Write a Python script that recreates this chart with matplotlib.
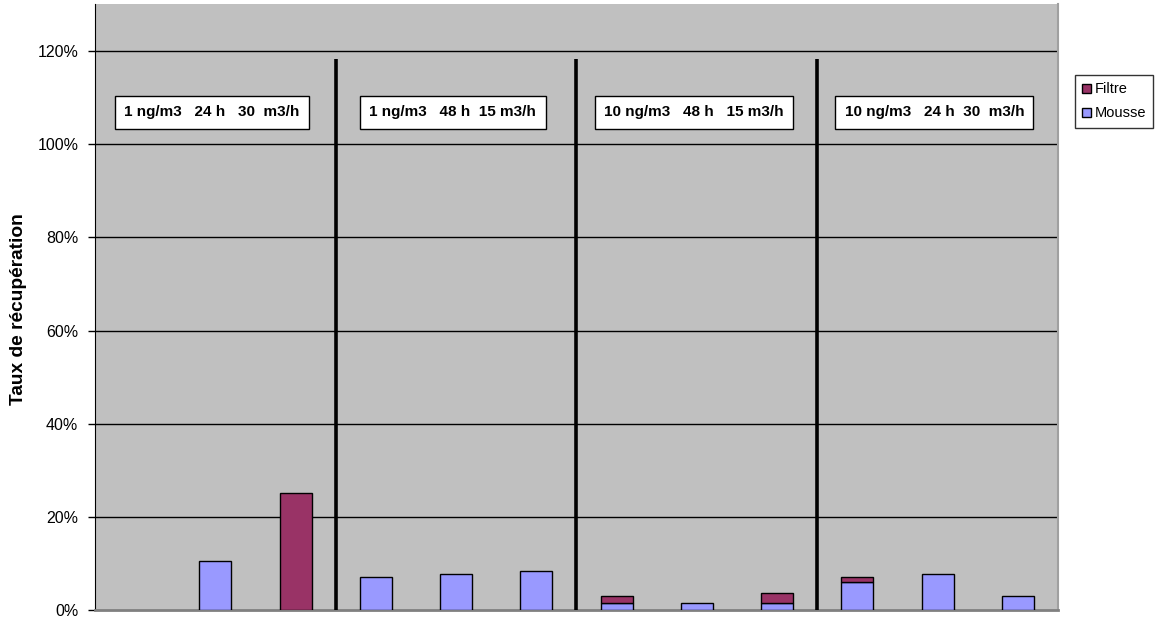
import matplotlib
matplotlib.use('Agg')
import matplotlib.pyplot as plt
import numpy as np

plt.rcParams['font.family'] = ['Liberation Sans', 'DejaVu Sans']

# 12 essais, 4 groupes de conditions
mousse = [0.0, 0.107, 0.0, 0.072, 0.078, 0.085, 0.017, 0.015, 0.017, 0.061, 0.078, 0.030]
filtre = [0.0, 0.0, 0.253, 0.0, 0.0, 0.0, 0.013, 0.0, 0.020, 0.011, 0.0, 0.0]
conditions = ['1 ng/m3   24 h   30  m3/h', '1 ng/m3   48 h  15 m3/h',
              '10 ng/m3   48 h   15 m3/h', '10 ng/m3   24 h  30  m3/h']
yticks = [0, 0.2, 0.4, 0.6, 0.8, 1.0, 1.2]

fig = plt.figure(figsize=(11.61, 6.23), dpi=100, facecolor='w')
axs = fig.add_axes([0.0818, 0.0201, 0.9113 - 0.0818, 0.9931 - 0.0201])
axs.set_facecolor('#C0C0C0')

x = np.arange(len(mousse))
m = np.array(mousse)
f = np.array(filtre)
width = 0.4
# pas de barre pour les valeurs nulles
im = m > 0
jf = f > 0
b1 = axs.bar(x[im], m[im], width, color='#9999FF', edgecolor='black', linewidth=1, zorder=3, label='Mousse')
b2 = axs.bar(x[jf], f[jf], width, bottom=m[jf], color='#993366', edgecolor='black', linewidth=1, zorder=3, label='Filtre')

axs.set_xlim(-0.5, len(mousse) - 0.5)
axs.set_ylim(0, 1.3)
axs.set_yticks(yticks)
axs.set_yticklabels(['%d%%' % round(v * 100) for v in yticks], fontsize=11.5)
axs.set_xticks([])
axs.tick_params(axis='y', length=5, width=1, color='black', pad=7)
for v in yticks[1:]:
    axs.axhline(v, color='black', linewidth=1, zorder=1)

axs.spines['top'].set_visible(False)
axs.spines['left'].set_color('black')
axs.spines['bottom'].set_color('#808080')
axs.spines['bottom'].set_linewidth(2)
axs.spines['right'].set_color('#A0A0A0')
axs.spines['right'].set_linewidth(1.5)

fig.text(19 / 1161, 1 - 309 / 623, 'Taux de récupération', rotation=90, ha='center', va='center',
         fontsize=13.8, fontweight='bold')

# separations entre groupes
for xs in [2.5, 5.5, 8.5]:
    axs.plot([xs, xs], [0, 1.183], color='black', linewidth=2.6, zorder=4, solid_capstyle='butt')

for k, txt in enumerate(conditions):
    axs.text(3 * k + 0.96, 1.068, txt, ha='center', va='center', fontsize=11, fontweight='bold', zorder=5,
             bbox=dict(boxstyle='square,pad=0.6', facecolor='white', edgecolor='black', linewidth=1))

leg = fig.legend(handles=[b2, b1], labels=['Filtre', 'Mousse'], loc='upper left',
                 bbox_to_anchor=(1075 / 1161, 1 - 75 / 623), fontsize=10.5, frameon=True, fancybox=False,
                 edgecolor='black', handlelength=0.6, handleheight=0.6, handletextpad=0.25,
                 borderpad=0.5, labelspacing=0.7, borderaxespad=0)
leg.get_frame().set_linewidth(1)

fig.savefig('out.png', dpi=100, facecolor='w')
